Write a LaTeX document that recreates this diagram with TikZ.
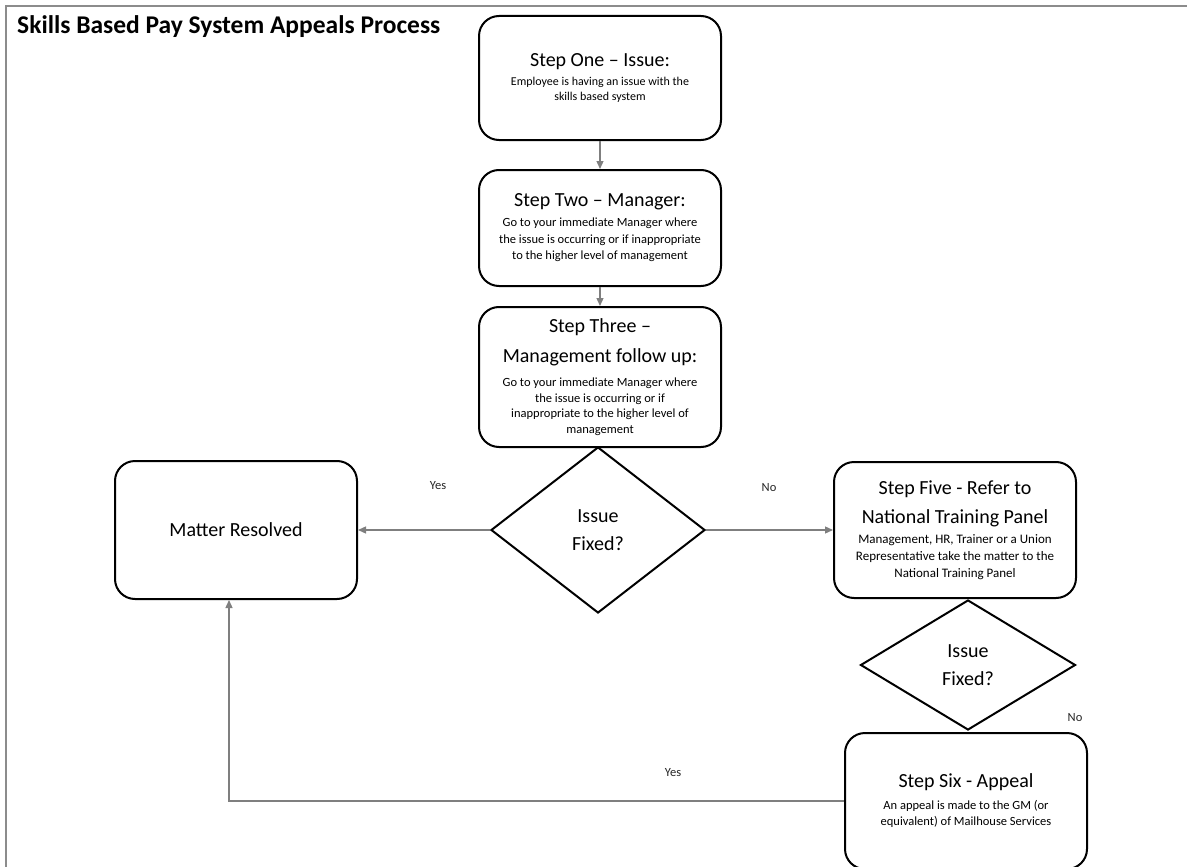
\documentclass[tikz,border=0pt]{standalone}
\usepackage{fontspec}
\setmainfont{Carlito}
\usetikzlibrary{shapes.geometric,arrows.meta}
\definecolor{conngray}{HTML}{7F7F7F}
\definecolor{framegray}{HTML}{8C8C8C}
\newcommand{\ttlfont}{\fontsize{20}{24}\selectfont}
\begin{document}
\begin{tikzpicture}[x=1pt,y=-1pt,
  box/.style={draw=black,line width=2pt,rounded corners=20pt,inner sep=0pt,align=center,fill=white,
    minimum width=242pt},
  decision/.style={draw=black,line width=2pt,diamond,inner sep=0pt,align=center,fill=white,
    font=\fontsize{20}{28}\selectfont},
  conn/.style={draw=conngray,line width=1.3pt,-{Triangle[length=8pt,width=7pt]},color=conngray},
  lbl/.style={font=\fontsize{12.5}{14}\selectfont,inner sep=0pt,text=black!85},
]
\useasboundingbox (0,0) rectangle (1187,867);
\clip (0,0) rectangle (1187,867);

% frame
\draw[framegray,line width=2pt] (6,867) -- (6,6) -- (1187,6);

% title
\node[anchor=west,inner sep=0pt,font=\fontsize{25.5}{30}\selectfont\bfseries] (title) at (17,27)
  {Skills Based Pay System Appeals Process};

% boxes
\node[box,minimum height=124pt,font=\fontsize{12}{15}\selectfont] (s1) at (600,78)
  {{\ttlfont Step One – Issue:}\\[4pt]
   Employee is having an issue with the\\
   skills based system};

\node[box,minimum height=116pt,font=\fontsize{12.5}{16.5}\selectfont] (s2) at (600,228)
  {{\ttlfont Step Two – Manager:}\\[3.5pt]
   Go to your immediate Manager where\\
   the issue is occurring or if inappropriate\\
   to the higher level of management};

\node[box,minimum height=140pt,font=\fontsize{12.5}{15.5}\selectfont] (s3) at (600,377)
  {{\ttlfont Step Three –}\\[11.5pt]
   {\ttlfont Management follow up:}\\[9pt]
   Go to your immediate Manager where\\
   the issue is occurring or if\\
   inappropriate to the higher level of\\
   management};

\node[decision,minimum width=214pt,minimum height=166pt] (d1) at (598,530)
  {Issue\\Fixed?};

\node[box,minimum height=138pt,font=\fontsize{20}{24}\selectfont] (mr) at (236,530)
  {Matter Resolved};

\node[box,minimum height=136pt,font=\fontsize{13}{17}\selectfont] (s5) at (955,530)
  {{\ttlfont Step Five - Refer to}\\[11pt]
   {\ttlfont National Training Panel}\\[3pt]
   Management, HR, Trainer or a Union\\
   Representative take the matter to the\\
   National Training Panel};

\node[decision,minimum width=215pt,minimum height=130pt] (d2) at (968,665)
  {Issue\\Fixed?};

\node[box,minimum height=136pt,font=\fontsize{12.5}{16}\selectfont] (s6) at (966,801)
  {{\ttlfont Step Six - Appeal}\\[6pt]
   An appeal is made to the GM (or\\
   equivalent) of Mailhouse Services};

% connectors
\draw[conn] (s1) -- (s2);
\draw[conn] (s2) -- (s3);
\draw[conn] (d1.west) -- (mr.east);
\draw[conn] (d1.east) -- (s5.west);
\draw[conn] (s6.west) -| ([xshift=-7pt]mr.south);

% labels
\node[lbl] (yes1) at (438,486) {Yes};
\node[lbl] (no1) at (769,488) {No};
\node[lbl] (no2) at (1075,718) {No};
\node[lbl] (yes2) at (673,773) {Yes};
\end{tikzpicture}
\end{document}
